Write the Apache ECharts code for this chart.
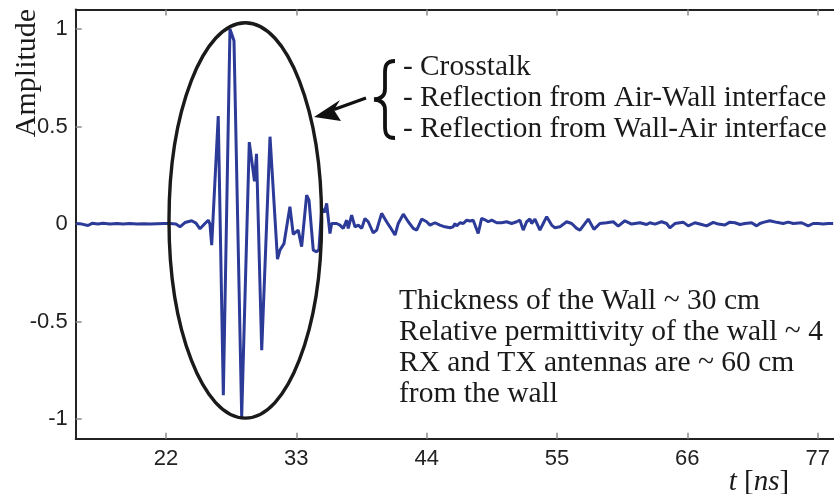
<!DOCTYPE html>
<html>
<head>
<meta charset="utf-8">
<script src="https://cdn.jsdelivr.net/npm/echarts@6/dist/echarts.min.js"></script>
<style>
html,body{margin:0;padding:0;background:#fff;}
#chart{width:834px;height:494px;}
</style>
</head>
<body>
<div id="chart"></div>
<script>
// ---- data ----
var timeNs = [14.41,14.91,15.42,15.76,16.26,16.68,17.27,17.87,18.37,18.96,19.55,20.14,20.65,21.24,21.83,22.34,22.84,23.18,23.60,24.17,24.53,24.87,25.29,25.57,25.71,25.86,25.99,26.41,26.84,27.40,27.74,28.39,29.03,29.47,29.64,30.08,30.78,31.41,31.62,31.96,32.46,32.74,33.16,33.45,33.87,34.07,34.43,34.72,34.91,35.14,35.38,35.56,35.84,35.98,36.41,36.68,36.96,37.25,37.38,37.67,37.95,38.23,38.52,38.79,39.07,39.22,39.49,39.78,40.20,40.62,40.90,41.33,41.60,42.03,42.45,42.87,43.16,43.58,44.00,44.28,44.70,45.12,45.54,45.97,46.24,46.39,46.53,46.81,47.09,47.38,47.65,47.93,48.35,48.64,48.92,49.20,49.49,49.91,50.33,50.75,51.17,51.60,51.87,52.15,52.44,52.72,52.86,53.14,53.56,53.84,54.13,54.55,54.83,55.25,55.81,56.24,56.66,56.94,57.64,58.12,58.62,59.19,59.75,60.17,60.73,61.30,62.00,62.57,62.84,63.27,63.83,64.25,64.53,64.95,65.65,66.08,66.64,67.21,67.63,68.19,68.61,69.17,69.59,70.02,70.44,70.86,71.43,71.85,72.13,72.41,72.97,73.54,74.09,74.52,74.94,75.65,76.20,76.62,77.05,77.47,77.89,78.31];
var amplitude = [0.003,0.0,-0.007,0.004,0.0,0.004,0.0,0.003,0.0,0.003,0.0,0.002,0.0,0.002,0.003,0.003,0.0,-0.014,0.008,0.017,0.005,-0.024,0.003,0.02,0.0,-0.108,-0.118,0.554,-0.877,1.0,0.94,-0.988,0.42,0.22,0.36,-0.646,0.448,-0.18,-0.133,-0.1,0.089,-0.052,-0.031,-0.116,0.149,0.123,-0.133,-0.142,-0.13,0.08,0.06,0.106,-0.048,0.003,0.003,-0.005,-0.022,0.02,-0.022,0.046,-0.014,-0.005,-0.022,0.029,0.012,0.02,-0.045,-0.031,0.055,0.012,-0.014,-0.056,0.003,0.051,0.012,-0.022,-0.031,0.026,0.012,-0.005,0.007,-0.005,-0.014,-0.019,-0.014,0.003,-0.01,0.007,0.003,0.02,0.016,0.02,-0.048,0.029,0.022,0.012,0.02,0.007,0.007,0.012,0.003,0.012,0.02,-0.031,0.012,0.026,0.003,0.026,-0.031,0.003,0.038,-0.005,-0.019,-0.014,0.012,0.003,-0.022,-0.031,0.026,-0.027,0.003,0.007,0.012,-0.01,0.017,0.0,0.007,-0.002,0.007,0.0,0.012,0.003,-0.019,0.003,0.01,-0.009,0.007,-0.002,-0.009,0.009,0.0,-0.005,0.01,0.007,-0.002,0.003,0.007,-0.009,0.003,0.009,0.017,0.009,0.003,0.01,0.003,0.007,-0.009,0.003,0.003,0.0,0.003,0.003];
var xTicks = [22,33,44,55,66,77];
var yTicks = [-1,-0.5,0,0.5,1];
var xRange = [14.38, 78.38];
var yRange = [-1.1, 1.1];
var noteTop = ['- Crosstalk','- Reflection from Air-Wall interface','- Reflection from Wall-Air interface'];
var noteBottom = ['Thickness of the Wall ~ 30 cm','Relative permittivity of the wall ~ 4','RX and TX antennas are ~ 60 cm','from the wall'];

var seriesData = timeNs.map(function(t,i){return [t, amplitude[i]];});
var serif = '"Liberation Serif","Times New Roman",serif';
var sans = '"Liberation Sans",Arial,sans-serif';
var tickStyle = {show:true, inside:true, length:6, lineStyle:{color:'#8a8a8a', width:1.5}};

var graphics = [];
var ink = {fill:null, stroke:'#111', lineWidth:3.8};
graphics.push({type:'ellipse', shape:{cx:245.3, cy:220.4, rx:76.3, ry:197.7}, style:{fill:null, stroke:'#1a1a1a', lineWidth:3.4}, z:10});
graphics.push({type:'line', shape:{x1:366, y1:98, x2:334, y2:109.5}, style:{stroke:'#111', lineWidth:3.4}, z:10});
graphics.push({type:'polygon', shape:{points:[[314,117],[340,100],[334,110],[341,121]]}, style:{fill:'#111'}, z:10});
// curly brace
graphics.push({type:'bezierCurve', shape:{x1:395,y1:61,cpx1:386,cpy1:61,cpx2:385,cpy2:66,x2:385,y2:73}, style:ink, z:10});
graphics.push({type:'line', shape:{x1:385,y1:73,x2:385,y2:89}, style:ink, z:10});
graphics.push({type:'bezierCurve', shape:{x1:385,y1:89,cpx1:385,cpy1:96,cpx2:381,cpy2:99,x2:374,y2:99.5}, style:ink, z:10});
graphics.push({type:'bezierCurve', shape:{x1:374,y1:99.5,cpx1:381,cpy1:100,cpx2:385,cpy2:103,x2:385,y2:110}, style:ink, z:10});
graphics.push({type:'line', shape:{x1:385,y1:110,x2:385,y2:126}, style:ink, z:10});
graphics.push({type:'bezierCurve', shape:{x1:385,y1:126,cpx1:385,cpy1:133,cpx2:386,cpy2:138,x2:395,y2:138}, style:ink, z:10});
noteTop.forEach(function(s,i){
  graphics.push({type:'text', x:403, y:67+31*i, style:{text:s, font:'29.3px '+serif, fill:'#1a1a1a', align:'left', verticalAlign:'middle'}, z:10});
});
noteBottom.forEach(function(s,i){
  graphics.push({type:'text', x:399, y:301+31*i, style:{text:s, font:'29.5px '+serif, fill:'#1a1a1a', align:'left', verticalAlign:'middle'}, z:10});
});
graphics.push({type:'text', x:27, y:73, rotation:Math.PI/2, style:{text:'Amplitude', font:'30px '+serif, fill:'#1a1a1a', align:'center', verticalAlign:'middle'}, z:10});
graphics.push({type:'text', x:759, y:482, style:{text:'{i|t} [{i|ns}]', font:'29px '+serif, fill:'#1a1a1a', align:'center', verticalAlign:'middle', rich:{i:{fontStyle:'italic', fontFamily:serif, fontSize:29, fill:'#1a1a1a'}}}, z:10});

var chart = echarts.init(document.getElementById('chart'), null, {renderer:'canvas'});
chart.setOption({
  animation:false,
  backgroundColor:'#fff',
  grid:{left:75.7, top:9.5, right:0, bottom:55.3, containLabel:false},
  xAxis:[{
    type:'value', min:xRange[0], max:xRange[1], position:'bottom',
    axisLine:{show:true, onZero:false, lineStyle:{color:'#222', width:2}},
    axisTick:Object.assign({customValues:xTicks}, tickStyle),
    axisLabel:{customValues:xTicks, color:'#222', fontFamily:sans, fontSize:22, margin:9},
    splitLine:{show:false}
  },{
    type:'value', min:xRange[0], max:xRange[1], position:'top',
    axisLine:{show:true, onZero:false, lineStyle:{color:'#222', width:2}},
    axisTick:Object.assign({customValues:xTicks}, tickStyle),
    axisLabel:{show:false},
    splitLine:{show:false}
  }],
  yAxis:{
    type:'value', min:yRange[0], max:yRange[1],
    axisLine:{show:true, onZero:false, lineStyle:{color:'#222', width:2}},
    axisTick:Object.assign({customValues:yTicks}, tickStyle),
    axisLabel:{customValues:yTicks, color:'#222', fontFamily:sans, fontSize:22, margin:8},
    splitLine:{show:false}
  },
  series:[{
    type:'line', data:seriesData, xAxisIndex:0, showSymbol:false, symbol:'none',
    lineStyle:{color:'#2c3a98', width:3}, z:5, clip:true
  }],
  graphic:graphics
});
</script>
</body>
</html>
